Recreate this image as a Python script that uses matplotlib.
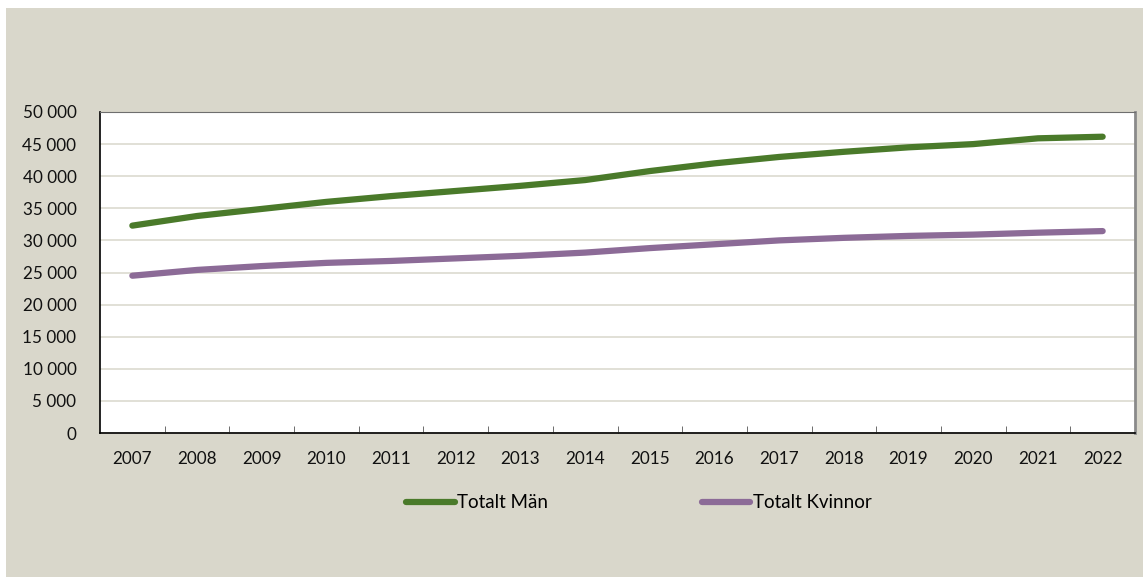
import matplotlib.pyplot as plt
from matplotlib.patches import Rectangle
from matplotlib.ticker import FuncFormatter, FixedLocator
import numpy as np

plt.rcParams['font.family'] = ['Lato', 'DejaVu Sans']

years = [str(y) for y in range(2007, 2023)]
man = [32300, 33800, 34900, 36000, 36900, 37700, 38500, 39400,
       40800, 42000, 43000, 43800, 44500, 45000, 45900, 46150]
kvinnor = [24500, 25400, 26000, 26500, 26800, 27200, 27600, 28100,
           28800, 29400, 30000, 30400, 30700, 30900, 31200, 31450]

bg = '#D9D7CB'
green = '#4A7A2A'
purple = '#8C6B97'

fig = plt.figure(figsize=(11.43, 5.77), dpi=100)
fig.patch.set_facecolor('white')
fig.patches.append(Rectangle((6 / 1143, 0), 1 - 6 / 1143, 1 - 8 / 577,
                             transform=fig.transFigure, facecolor=bg,
                             edgecolor='none', zorder=-5))

ax = fig.add_axes([100 / 1143, (577 - 433) / 577, 1035 / 1143, 321 / 577])
ax.set_zorder(1)
ax.set_facecolor('white')

x = np.arange(len(years))
ax.plot(x, man, color=green, lw=4.5, solid_capstyle='round', label='Totalt Män')
ax.plot(x, kvinnor, color=purple, lw=4.5, solid_capstyle='round', label='Totalt Kvinnor')

ax.set_xlim(-0.5, len(years) - 0.5)
ax.set_ylim(0, 50000)
ax.set_yticks(range(0, 50001, 5000))
ax.yaxis.set_major_formatter(FuncFormatter(lambda v, p: f'{int(v):,}'.replace(',', ' ')))
ax.grid(axis='y', color='#DCDAD0', lw=1.2)
ax.set_axisbelow(True)

ax.set_xticks(x)
ax.set_xticklabels(years)
ax.xaxis.set_minor_locator(FixedLocator(np.arange(0.5, len(years) - 1, 1)))
ax.tick_params(axis='x', which='major', length=0, pad=13, labelsize=12.3, colors='#111111')
ax.tick_params(axis='x', which='minor', direction='in', length=5, color='#555555')
ax.tick_params(axis='y', length=0, pad=17, labelsize=12.3, colors='#111111')

ax.spines['left'].set_color('black')
ax.spines['bottom'].set_color('black')
ax.spines['left'].set_linewidth(1.2)
ax.spines['bottom'].set_linewidth(1.2)
ax.spines['top'].set_color('#6E6E6E')
ax.spines['right'].set_color('#8A8A8A')
ax.spines['right'].set_linewidth(2)

fig.legend(loc='center', bbox_to_anchor=(0.559, (577 - 503) / 577), ncol=2,
           frameon=False, fontsize=13.5, handlelength=2.6, handletextpad=0.15,
           columnspacing=8.17)

fig.savefig('out.png', dpi=100, facecolor=fig.get_facecolor())
